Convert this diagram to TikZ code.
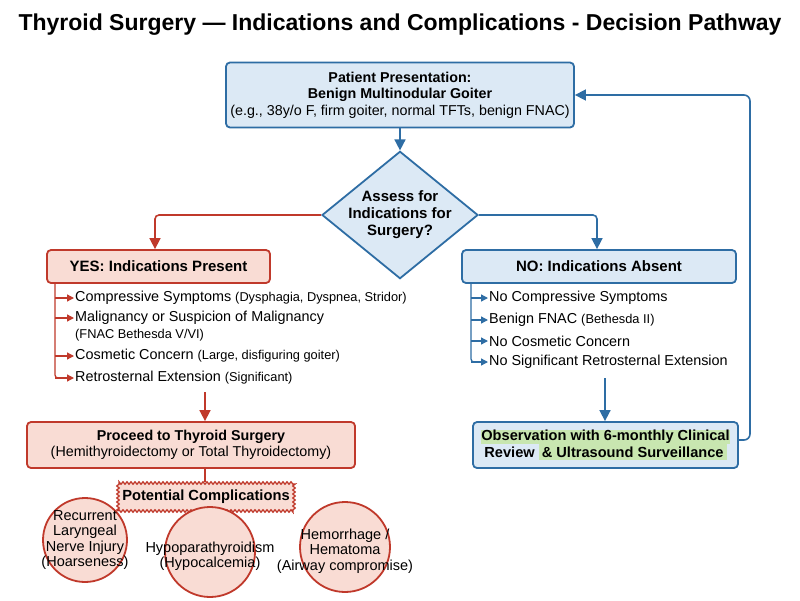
\documentclass[tikz,border=0pt]{standalone}
\usepackage{fontspec}
\setmainfont{Liberation Sans}
\usetikzlibrary{shapes.geometric,decorations.pathmorphing,arrows.meta}
\definecolor{bl}{HTML}{2E6DA4}
\definecolor{blf}{HTML}{DCE9F5}
\definecolor{rd}{HTML}{C0392B}
\definecolor{rdf}{HTML}{F9DCD4}
\definecolor{gr}{HTML}{C8E6B0}
\pgfdeclarelayer{bg}
\pgfsetlayers{bg,main}
\begin{document}
\begin{tikzpicture}[x=1pt,y=-1pt,
  bbox/.style={draw=bl,fill=blf,line width=1.8pt,rounded corners=4pt,align=center,inner sep=0pt},
  rbox/.style={draw=rd,fill=rdf,line width=1.8pt,rounded corners=4pt,align=center,inner sep=0pt},
  barr/.style={draw=bl,line width=1.6pt,-{Triangle[length=11pt,width=11pt]}},
  rarr/.style={draw=rd,line width=1.6pt,-{Triangle[length=11pt,width=11pt]}},
  sarrb/.style={draw=bl,line width=1.3pt,-{Triangle[length=7pt,width=7pt]}},
  sarrr/.style={draw=rd,line width=1.3pt,-{Triangle[length=7pt,width=7pt]}},
  circ/.style={circle,draw=rd,fill=rdf,line width=1.8pt,inner sep=0pt},
  ctext/.style={align=center,inner sep=0pt,font=\fontsize{14.5}{15.5}\selectfont},
  item/.style={anchor=west,inner sep=0pt,font=\fontsize{14.4}{16}\selectfont},
  sub/.style={font=\fontsize{12.8}{14}\selectfont}]
\useasboundingbox (0,0) rectangle (800,600);
\fill[white] (0,0) rectangle (800,600);
\node (title) at (400,25) {\fontsize{23}{26}\selectfont\bfseries Thyroid Surgery — Indications and Complications - Decision Pathway};
\node[bbox,minimum width=348pt,minimum height=65pt,font=\fontsize{14.3}{16.5}\selectfont] (top) at (400,95) {\bfseries Patient Presentation:\\ \bfseries Benign Multinodular Goiter\\ (e.g., 38y/o F, firm goiter, normal TFTs, benign FNAC)};
\node[diamond,draw=bl,fill=blf,line width=1.8pt,minimum width=156pt,minimum height=80pt,inner sep=-6pt,align=center,font=\fontsize{15}{17}\selectfont\bfseries] (dia) at (400,215) {Assess for\\ Indications for\\ Surgery?};
\draw[barr] (top) -- (dia);
\node[rbox,minimum width=223pt,minimum height=33pt,font=\fontsize{15}{17}\selectfont\bfseries] (yes) at (158.5,266.5) {YES: Indications Present};
\node[bbox,minimum width=274pt,minimum height=33pt,font=\fontsize{15}{17}\selectfont\bfseries] (no) at (599,266.5) {NO: Indications Absent};
\draw[rarr,rounded corners=4pt] (dia.west) -| (yes.north -| 155,0);
\draw[barr,rounded corners=4pt] (dia.east) -| (no.north -| 597,0);
% left list
\coordinate (ly0) at (55,283);
\node[item] (l1) at (75,298) {Compressive Symptoms {\fontsize{12.8}{14}\selectfont (Dysphagia, Dyspnea, Stridor)}};
\node[item] (l2) at (75,318) {Malignancy or Suspicion of Malignancy};
\node[item,sub] (l2b) at (75,335) {(FNAC Bethesda V/VI)};
\node[item] (l3) at (75,356) {Cosmetic Concern {\fontsize{12.8}{14}\selectfont (Large, disfiguring goiter)}};
\node[item] (l4) at (75,378) {Retrosternal Extension {\fontsize{12.8}{14}\selectfont (Significant)}};
\draw[draw=rd,line width=1.3pt,rounded corners=3pt] (ly0) -- (55,378) -- (58,378);
\foreach \n in {l1,l2,l3,l4} \draw[sarrr] (55,0 |- \n.west) -- ([xshift=-1pt]\n.west);
% right list
\coordinate (ry0) at (471,283);
\node[item] (r1) at (489,298) {No Compressive Symptoms};
\node[item] (r2) at (489,320) {Benign FNAC {\fontsize{12.8}{14}\selectfont (Bethesda II)}};
\node[item] (r3) at (489,341) {No Cosmetic Concern};
\node[item] (r4) at (489,362) {No Significant Retrosternal Extension};
\draw[draw=bl,line width=1.3pt,rounded corners=3pt] (ry0) -- (471,362) -- (474,362);
\foreach \n in {r1,r2,r3,r4} \draw[sarrb] (471,0 |- \n.west) -- ([xshift=-1pt]\n.west);
% proceed
\node[rbox,minimum width=328pt,minimum height=46pt,font=\fontsize{14.3}{16.5}\selectfont] (proc) at (191,445) {\bfseries Proceed to Thyroid Surgery\\ (Hemithyroidectomy or Total Thyroidectomy)};
\coordinate (lstart) at (205,392);
\draw[rarr] (lstart) -- (proc.north -| 205,0);
% complications
\node[draw=rd,fill=rdf,line width=1.3pt,minimum width=176pt,minimum height=28pt,inner sep=0pt,decorate,decoration={zigzag,segment length=4pt,amplitude=1.2pt},font=\fontsize{14.7}{16}\selectfont\bfseries] (comp) at (206,497) {Potential Complications};
\draw[draw=rd,line width=1.6pt] (proc.south -| 205,0) -- (comp.north -| 205,0);
\node[circ,minimum size=84pt] (c1) at (85,540) {};
\node[ctext] (t1) at (c1) {Recurrent\\ Laryngeal\\ Nerve Injury\\ (Hoarseness)};
\node[circ,minimum size=90pt] (c2) at (210,552) {};
\node[ctext] (t2) at ([yshift=-4pt]c2) {Hypoparathyroidism\\ (Hypocalcemia)};
\node[circ,minimum size=90pt] (c3) at (345,547) {};
\node[ctext] (t3) at ([yshift=-4pt]c3) {Hemorrhage /\\ Hematoma\\ (Airway compromise)};
\begin{pgfonlayer}{bg}
\draw[draw=rd,line width=1.6pt] (comp) -- (c1);
\draw[draw=rd,line width=1.6pt] (comp) -- (c2);
\draw[draw=rd,line width=1.6pt] (comp) -- (c3);
\end{pgfonlayer}
% observation
\node[bbox,minimum width=265pt,minimum height=46pt,font=\fontsize{14.6}{16}\selectfont\bfseries] (obs) at (605.5,445) {\setlength{\fboxsep}{0.5pt}\colorbox{gr}{Observation with 6-monthly Clinical}\\[-2pt] Review \colorbox{gr}{\& Ultrasound Surveillance}};
\coordinate (rstart) at (605,378);
\draw[barr] (rstart) -- (obs.north -| 605,0);
\draw[barr,rounded corners=6pt] (obs.east |- 0,440) -- (750,440) -- (750,95) -- (top.east);
\end{tikzpicture}
\end{document}
